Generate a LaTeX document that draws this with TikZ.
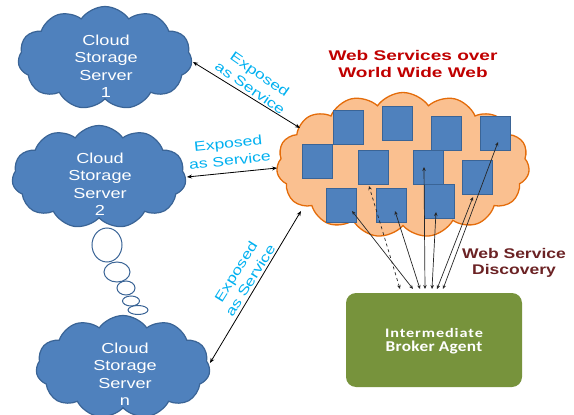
\documentclass[tikz,border=0pt]{standalone}
\usepackage{fontspec}
\setmainfont{Liberation Sans}
\newfontfamily\widefont[FakeStretch=1.25]{Liberation Sans}
\newfontfamily\expfont[FakeStretch=1.3]{Liberation Sans}
\newfontfamily\titlefont[FakeStretch=1.36]{Liberation Sans}
\newfontfamily\brokerA[FakeStretch=1.25,LetterSpace=7]{Carlito}
\newfontfamily\brokerB[FakeStretch=1.15,LetterSpace=2]{Carlito}
\usetikzlibrary{shapes.symbols,shapes.geometric,arrows.meta}
\definecolor{cblue}{HTML}{4F81BD}
\definecolor{cbluedk}{HTML}{3A6496}
\definecolor{corange}{HTML}{FAC090}
\definecolor{corangedk}{HTML}{E46C0A}
\definecolor{cgreen}{HTML}{77933C}
\definecolor{ccyan}{HTML}{00B0F0}
\definecolor{cred}{HTML}{C00000}
\definecolor{cmaroon}{HTML}{6B2224}
\begin{document}
\begin{tikzpicture}[x=1pt,y=-1pt,
  bluecloud/.style={cloud, cloud puffs=11, cloud puff arc=110, aspect=1.7,
    fill=cblue, draw=cbluedk, line width=1.2pt, minimum width=174pt, minimum height=103pt, inner sep=0pt},
  webcloud/.style={cloud, cloud puffs=15, cloud puff arc=110, aspect=1.75,
    fill=corange, draw=corangedk, line width=1.3pt, minimum width=253pt, minimum height=145pt, inner sep=0pt},
  cloudtext/.style={text=white, align=center, font=\widefont\fontsize{14.5}{17.5}\selectfont, inner sep=0pt},
  exptext/.style={text=ccyan, align=center, font=\expfont\fontsize{13.5}{17}\selectfont, inner sep=0pt},
  svc/.style={rectangle, fill=cblue, draw=cbluedk, line width=1pt, minimum width=30pt, minimum height=34pt, inner sep=0pt},
  bubble/.style={ellipse, draw=cbluedk, fill=white, line width=1pt, inner sep=0pt},
  link/.style={{Stealth[length=5pt,width=4pt]}-{Stealth[length=5pt,width=4pt]}, line width=0.8pt, black},
  disc/.style={{Stealth[length=4pt,width=3.5pt]}-{Stealth[length=4pt,width=3.5pt]}, line width=0.7pt, black!85}
]
\useasboundingbox (0,0) rectangle (574,415);

% clouds
\node[bluecloud] (c1) at (105,58) {};
\node[cloudtext] (c1t) at (106,66) {Cloud\\Storage\\Server\\1};
\node[bluecloud] (c2) at (99,177) {};
\node[cloudtext] (c2t) at (100,184) {Cloud\\Storage\\Server\\2};
\node[bluecloud] (cn) at (123,367) {};
\node[cloudtext] (cnt) at (125,374) {Cloud\\Storage\\Server\\n};

% thought bubbles
\node[bubble, minimum width=30pt, minimum height=34pt] (b1) at (107,245) {};
\node[bubble, minimum width=26pt, minimum height=20pt] (b2) at (117,272) {};
\node[bubble, minimum width=18pt, minimum height=14pt] (b3) at (126,288) {};
\node[bubble, minimum width=17pt, minimum height=10pt] (b4) at (131,301) {};
\node[bubble, minimum width=20pt, minimum height=9pt] (b5) at (138,310) {};

% web cloud
\node[webcloud] (web) at (403,165) {};
\node[text=cred, align=center, font=\titlefont\bfseries\fontsize{14}{17}\selectfont] (title) at (413,64) {Web Services over\\World Wide Web};

% services
\node[svc] (s1) at (348,127) {};
\node[svc] (s2) at (397,123) {};
\node[svc] (s3) at (446,133) {};
\node[svc] (s4) at (495,133) {};
\node[svc] (s5) at (317,161) {};
\node[svc] (s6) at (373,167) {};
\node[svc] (s7) at (428,167) {};
\node[svc] (s8) at (477,177) {};
\node[svc] (s9) at (341,205) {};
\node[svc] (s10) at (391,205) {};
\node[svc] (s11) at (439,201) {};

% broker
\node[rectangle, rounded corners=10pt, fill=cgreen, minimum width=176pt, minimum height=94pt, inner sep=0pt] (broker) at (434,340) {};
\node[text=white, align=center, inner sep=0pt] (brokert) at (434,341)
  {{\brokerA\bfseries\fontsize{13}{15}\selectfont Intermediate}\\[2pt]{\brokerB\bfseries\fontsize{15}{17}\selectfont Broker Agent}};

\node[text=cmaroon, align=center, font=\widefont\bfseries\fontsize{14}{16}\selectfont] (disc) at (514,263) {Web Service\\Discovery};

% exposure links
\coordinate (e1a) at (193,62);
\coordinate (e1b) at (300,128);
\draw[link] (e1a) -- (e1b);
\node[exptext, rotate=-35] (l1) at (255,81) {Exposed\\as Service};

\coordinate (e2a) at (187,177);
\coordinate (e2b) at (277,168);
\draw[link] (e2a) -- (e2b);
\node[exptext, rotate=6] (l2) at (229,152) {Exposed\\as Service};

\coordinate (e3a) at (210,363);
\coordinate (e3b) at (301,211);
\draw[link] (e3a) -- (e3b);
\node[exptext, rotate=58] (l3) at (243,276) {Exposed\\as Service};

% discovery links
\coordinate (t6) at (369,186);
\coordinate (t9) at (352,211);
\coordinate (t10) at (395,211);
\coordinate (t7) at (424,167);
\coordinate (t11) at (436,212);
\coordinate (t8) at (473,197);
\coordinate (t4) at (498,142);
\coordinate (d6) at (400,289);
\coordinate (d9) at (413,289);
\coordinate (d10) at (420,289);
\coordinate (d7) at (425,289);
\coordinate (d11) at (432,289);
\coordinate (d8) at (437,289);
\coordinate (d4) at (443,289);
\draw[disc, dashed] (d6) -- (t6);
\draw[disc] (d9) -- (t9);
\draw[disc] (d10) -- (t10);
\draw[disc] (d7) -- (t7);
\draw[disc] (d11) -- (t11);
\draw[disc] (d8) -- (t8);
\draw[disc] (d4) -- (t4);
\end{tikzpicture}
\end{document}
